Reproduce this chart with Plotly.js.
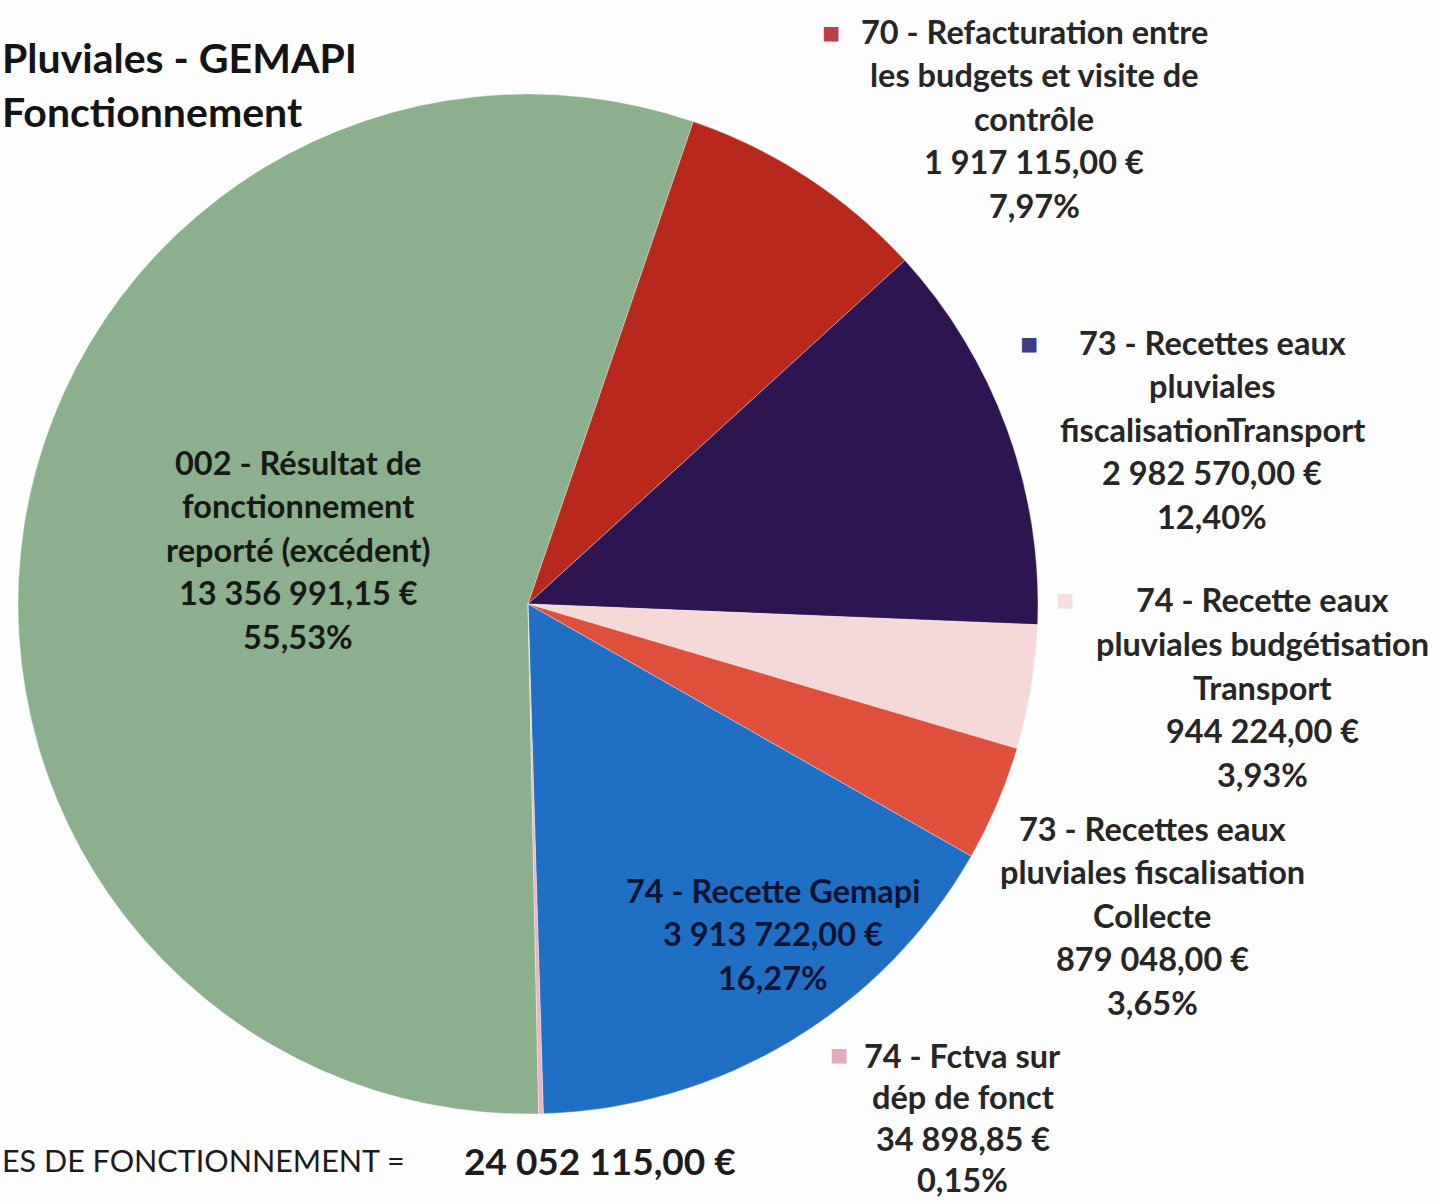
<!DOCTYPE html>
<html>
<head>
<meta charset="utf-8">
<script src="https://cdn.plot.ly/plotly-3.0.1.min.js"></script>
<style>html,body{margin:0;padding:0;background:#fdfdfd;}#chart{width:1440px;height:1204px;}</style>
</head>
<body>
<div id="chart"></div>
<script>
// ---- DATA ----
var categories = [
  "002 - Résultat de fonctionnement reporté (excédent)",
  "70 - Refacturation entre les budgets et visite de contrôle",
  "73 - Recettes eaux pluviales fiscalisationTransport",
  "74 - Recette eaux pluviales budgétisation Transport",
  "73 - Recettes eaux pluviales fiscalisation Collecte",
  "74 - Recette Gemapi",
  "74 - Fctva sur dép de fonct"
];
var values = [13356991.15, 1917115.00, 2982570.00, 944224.00, 879048.00, 3913722.00, 34898.85];
var totalRecettes = 24052115.00;
var nameLines = [
  ["002 - Résultat de", "fonctionnement", "reporté (excédent)"],
  ["70 - Refacturation entre", "les budgets et visite de", "contrôle"],
  ["73 - Recettes eaux", "pluviales", "fiscalisationTransport"],
  ["74 - Recette eaux", "pluviales budgétisation", "Transport"],
  ["73 - Recettes eaux", "pluviales fiscalisation", "Collecte"],
  ["74 - Recette Gemapi"],
  ["74 - Fctva sur", "dép de fonct"]
];
var titleLines = ["Pluviales - GEMAPI", "Fonctionnement"];
var totalLabel = "ES DE FONCTIONNEMENT =";

// ---- STYLE / LAYOUT ----
var colors = ["#8cb08e", "#b8281d", "#2c1550", "#f7d8d8", "#de4f3c", "#1f70c5", "#e9b3c0"];
var keyColors = ["#8cb08e", "#b9404a", "#3d3d86", "#f6dcdc", "#de4f3c", "#1f70c5", "#e3aab9"];
var W = 1440, H = 1204;
var cx = 528, cy = 604, R = 510;
// label placement (pixels): center x, first line y, line step, optional legend key position
var labelPos = [
  {x: 298, y: 462, step: 43.6, inside: true},
  {x: 1034, y: 31, step: 43.6, key: [831, 31]},
  {x: 1212, y: 342, step: 43.6, key: [1029, 342]},
  {x: 1262, y: 600, step: 43.6, key: [1065, 598]},
  {x: 1152, y: 828, step: 43.6},
  {x: 773, y: 890, step: 43.6, inside: true},
  {x: 963, y: 1055, step: 41.5, key: [839, 1053]}
];
var FONT = "Lato, 'Open Sans', sans-serif";

function fx(p) { return p / W; }
function fy(p) { return 1 - p / H; }
function fmtEuro(v) {
  var s = v.toFixed(2).split(".");
  var ip = s[0].replace(/\B(?=(\d{3})+(?!\d))/g, " ");
  return ip + "," + s[1] + " €";
}
function fmtPct(v) {
  return (v / totalRecettes * 100).toFixed(2).replace(".", ",") + "%";
}

var annotations = [];
function addText(x, y, text, size, color, weight, anchor) {
  annotations.push({
    xref: "paper", yref: "paper", x: fx(x), y: fy(y),
    text: text, showarrow: false, xanchor: anchor || "center", yanchor: "middle",
    font: {family: FONT, size: size, color: color, weight: weight}
  });
}

for (var i = 0; i < categories.length; i++) {
  var lp = labelPos[i];
  var lines = nameLines[i].concat([fmtEuro(values[i]), fmtPct(values[i])]);
  var col = lp.inside ? (i === 5 ? "#0b1433" : "#151a15") : "#262626";
  for (var j = 0; j < lines.length; j++) {
    addText(lp.x, lp.y + j * lp.step, lines[j], 32.5, col, 700);
  }
  if (lp.key) {
    addText(lp.key[0], lp.key[1], "■", 30, keyColors[i], 400);
  }
}
// title (cropped in the reference)
addText(0, 57, titleLines[0], 41, "#141414", 700, "left");
addText(0, 112, titleLines[1], 41, "#141414", 700, "left");
// total line
addText(0, 1160, totalLabel, 30.5, "#1c1c1c", 400, "left");
addText(462, 1160, fmtEuro(totalRecettes), 37, "#1c1c1c", 700, "left");

var trace = {
  type: "pie",
  labels: categories,
  values: values,
  sort: false,
  direction: "clockwise",
  rotation: 178.8,
  textinfo: "none",
  hoverinfo: "label+value+percent",
  marker: {colors: colors, line: {color: "rgba(255,255,255,0.35)", width: 1}},
  domain: {x: [fx(cx - R), fx(cx + R)], y: [fy(cy + R), fy(cy - R)]},
  showlegend: false
};

var layout = {
  width: W, height: H,
  margin: {l: 0, r: 0, t: 0, b: 0},
  paper_bgcolor: "#fdfdfd",
  showlegend: false,
  annotations: annotations
};

Plotly.newPlot("chart", [trace], layout, {displayModeBar: false, staticPlot: true});
</script>
</body>
</html>
